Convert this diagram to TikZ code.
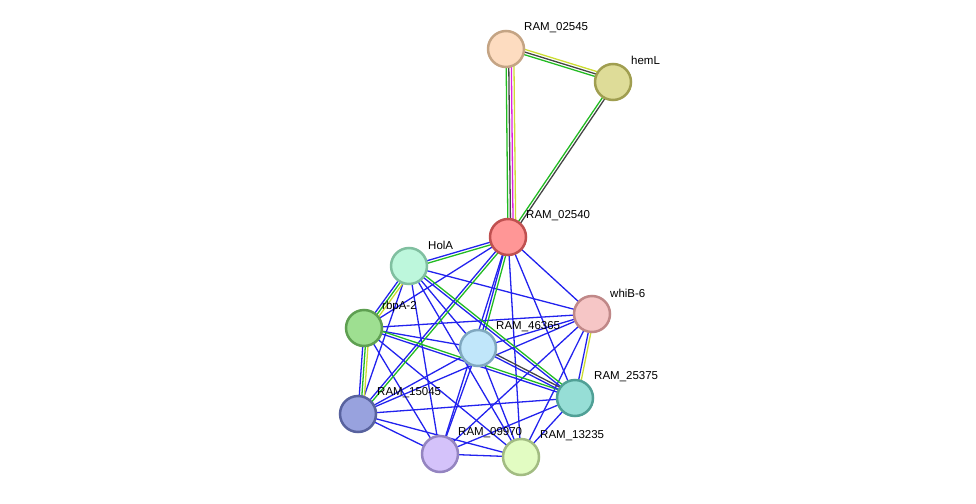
\documentclass[tikz,border=0pt]{standalone}
\usepackage{fontspec}
\setmainfont{Liberation Sans}
\usetikzlibrary{calc}
\definecolor{eb}{HTML}{2222EE}
\definecolor{eg}{HTML}{22BB22}
\definecolor{ey}{HTML}{CCDD33}
\definecolor{ek}{HTML}{444444}
\definecolor{em}{HTML}{DD22DD}
\definecolor{fa}{RGB}{253,220,192}\definecolor{sa}{RGB}{196,164,132}
\definecolor{fh}{RGB}{222,220,152}\definecolor{sh}{RGB}{160,158,80}
\definecolor{fr}{RGB}{255,150,150}\definecolor{sr}{RGB}{192,80,80}
\definecolor{fho}{RGB}{189,247,220}\definecolor{sho}{RGB}{128,191,160}
\definecolor{fw}{RGB}{246,198,198}\definecolor{sw}{RGB}{192,136,136}
\definecolor{frb}{RGB}{158,223,145}\definecolor{srb}{RGB}{94,159,81}
\definecolor{fm}{RGB}{192,230,250}\definecolor{sm}{RGB}{128,168,192}
\definecolor{ft}{RGB}{150,222,214}\definecolor{st}{RGB}{80,160,150}
\definecolor{fb}{RGB}{152,162,222}\definecolor{sb}{RGB}{88,98,158}
\definecolor{fl}{RGB}{212,194,250}\definecolor{sl}{RGB}{148,132,192}
\definecolor{fg}{RGB}{226,252,194}\definecolor{sg}{RGB}{162,188,130}
\tikzset{
  prot/.style={circle,minimum size=36pt,inner sep=0pt,line width=2.5pt},
  lab/.style={anchor=west,font=\fontsize{11.5}{12}\selectfont,inner sep=0pt},
  ed/.style={line width=1.3pt}
}
\newcommand{\medge}[3]{%
  \foreach \c [count=\i] in {#3}{%
    \pgfmathsetmacro{\o}{(\i-1)*2.6}%
    \draw[ed,\c] ($(#1)!\o pt!90:(#2)$) -- ($(#2)!\o pt!-90:(#1)$);
  }}
\begin{document}
\begin{tikzpicture}[x=1pt,y=-1pt]
\useasboundingbox (0,0) rectangle (976,503);
\coordinate (a) at (506,49);
\coordinate (h) at (613,82);
\coordinate (r) at (508,237);
\coordinate (ho) at (409,266);
\coordinate (w) at (592,314);
\coordinate (rb) at (364,328);
\coordinate (m) at (478,348);
\coordinate (t) at (575,398);
\coordinate (b) at (358,414);
\coordinate (l) at (440,454);
\coordinate (g) at (521,457);
% top triangle
\medge{a}{r}{eg,ek,em,ey}
\medge{a}{h}{eg,ek,ey}
\medge{h}{r}{eg,ek}
% cluster blue edges
\foreach \p/\q in {r/w,r/rb,r/t,r/l,r/g,ho/w,ho/m,ho/b,ho/l,ho/g,
  w/rb,w/m,w/b,w/l,w/g,rb/m,rb/l,rb/g,m/b,m/l,m/g,t/b,t/l,t/g,b/l,b/g,l/g}
  {\draw[ed,eb] (\p) -- (\q);}
\medge{r}{ho}{eb,eg}
\medge{r}{m}{eb,eg}
\medge{r}{b}{eb,eg}
\medge{ho}{rb}{eb,eg,ey}
\medge{rb}{b}{eb,eg,ey}
\medge{ho}{t}{eb,eg}
\medge{rb}{t}{eb,eg}
\medge{m}{t}{eb,ek}
\medge{w}{t}{eb,ey}
% nodes
\foreach \n in {a,h,r,ho,w,rb,m,t,b,l,g}
  {\node[prot,fill=f\n,draw=s\n] (n\n) at (\n) {};}
% labels
\node[lab] (ta) at (524,28) {RAM\_02545};
\node[lab] (th) at (631,60) {hemL};
\node[lab] (tr) at (526,216) {RAM\_02540};
\node[lab] (tho) at (428,245) {HolA};
\node[lab] (tw) at (610,293) {whiB-6};
\node[lab] (trb) at (382,307) {rbpA-2};
\node[lab] (tm) at (496,327) {RAM\_46365};
\node[lab] (tt) at (594,377) {RAM\_25375};
\node[lab] (tb) at (377,393) {RAM\_15045};
\node[lab] (tl) at (458,433) {RAM\_09970};
\node[lab] (tg) at (540,436) {RAM\_13235};
\end{tikzpicture}
\end{document}
